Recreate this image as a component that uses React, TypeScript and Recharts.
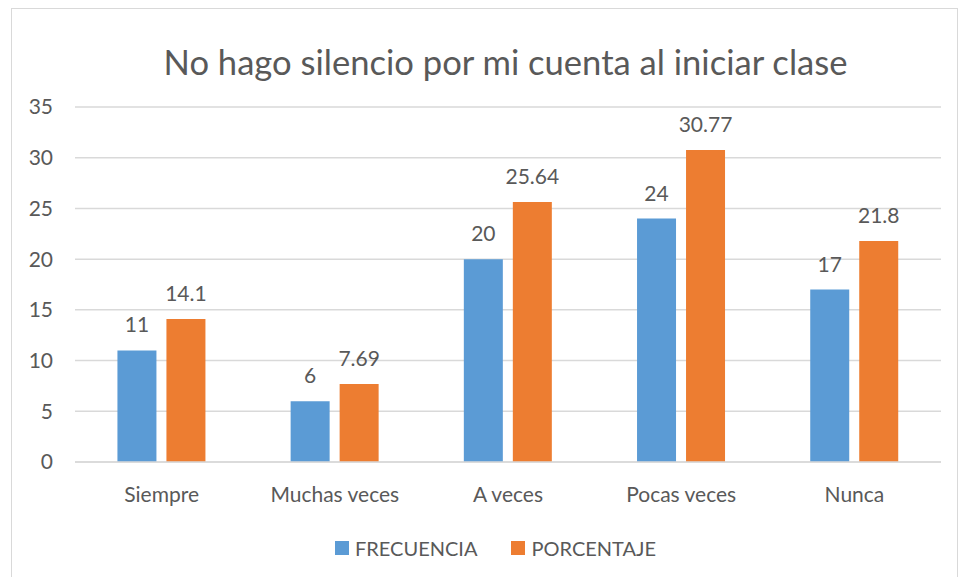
import { BarChart, Bar, XAxis, YAxis, CartesianGrid, LabelList } from 'recharts';

const categories = ['Siempre', 'Muchas veces', 'A veces', 'Pocas veces', 'Nunca'];
const frecuencia = [11, 6, 20, 24, 17];
const porcentaje = [14.1, 7.69, 25.64, 30.77, 21.8];
const yTicks = [0, 5, 10, 15, 20, 25, 30, 35];

const data = categories.map((name, i) => ({
  name,
  frecuencia: frecuencia[i],
  porcentaje: porcentaje[i],
}));

const FONT = 'Lato, "Open Sans", sans-serif';
const TEXT = '#595959';

const legendItems = [
  { label: 'FRECUENCIA', color: '#5b9bd5' },
  { label: 'PORCENTAJE', color: '#ed7d31' },
];

export default function App() {
  return (
    <div style={{ position: 'absolute', left: 0, top: 0, width: 960, height: 577, background: '#fff', overflow: 'hidden' }}>
      <div style={{ position: 'absolute', left: 11, top: 8, width: 947, height: 580, border: '1px solid #d9d9d9', boxSizing: 'border-box' }} />
      <div style={{ position: 'absolute', left: 0, top: 41, width: 1011, textAlign: 'center', fontFamily: FONT, fontSize: 34.6, color: TEXT, lineHeight: 'normal' }}>
        No hago silencio por mi cuenta al iniciar clase
      </div>
      <div style={{ position: 'absolute', left: 0, top: 0 }}>
        <BarChart
          width={960}
          height={577}
          data={data}
          margin={{ top: 107, right: 19, bottom: 0, left: 0 }}
          barCategoryGap="24.5%"
          barGap={10}
        >
          <CartesianGrid vertical={false} stroke="#d9d9d9" strokeWidth={1.5} />
          <XAxis
            dataKey="name"
            axisLine={{ stroke: '#d9d9d9', strokeWidth: 1.5 }}
            tickLine={false}
            tickSize={0}
            tickMargin={25}
            tick={{ fill: TEXT, fontSize: 21, fontFamily: FONT }}
            height={115}
          />
          <YAxis
            domain={[0, 35]}
            ticks={yTicks}
            width={75}
            axisLine={false}
            tickLine={false}
            tickSize={0}
            tickMargin={22}
            tick={{ fill: TEXT, fontSize: 21, fontFamily: FONT }}
          />
          <Bar dataKey="frecuencia" name="FRECUENCIA" fill="#5b9bd5" isAnimationActive={false}>
            <LabelList dataKey="frecuencia" position="top" offset={18} fill={TEXT} fontSize={21} fontFamily={FONT} />
          </Bar>
          <Bar dataKey="porcentaje" name="PORCENTAJE" fill="#ed7d31" isAnimationActive={false}>
            <LabelList dataKey="porcentaje" position="top" offset={18} fill={TEXT} fontSize={21} fontFamily={FONT} />
          </Bar>
        </BarChart>
      </div>
      <div style={{ position: 'absolute', left: 335, top: 534, display: 'flex', gap: 34, fontFamily: FONT, fontSize: 20, color: TEXT, lineHeight: '28px' }}>
        {legendItems.map((item) => (
          <div key={item.label} style={{ display: 'flex', alignItems: 'center', gap: 6 }}>
            <span style={{ width: 14, height: 14, background: item.color, display: 'inline-block' }} />
            <span>{item.label}</span>
          </div>
        ))}
      </div>
    </div>
  );
}
